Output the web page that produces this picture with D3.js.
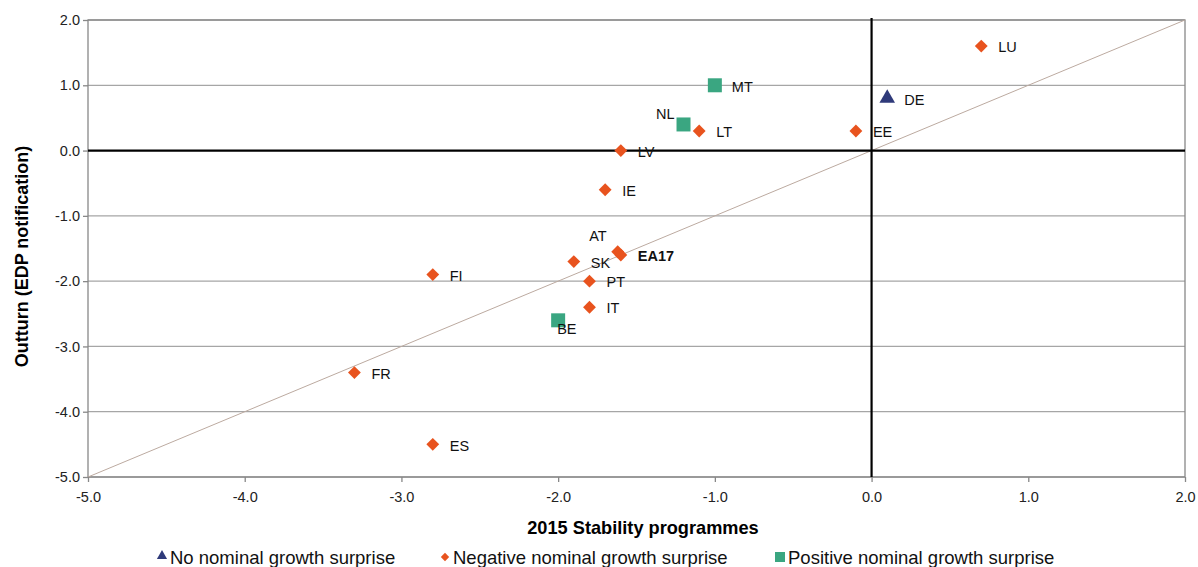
<!DOCTYPE html>
<html><head><meta charset="utf-8">
<script src="https://cdn.jsdelivr.net/npm/d3@7"></script>
<style>
body{margin:0;background:#fff;}
text{font-family:"Liberation Sans",Arial,sans-serif;}
</style></head>
<body>
<svg id="c" width="1198" height="567"></svg>
<script>
// ---- data ----
const countries = ["LU","DE","EE","MT","NL","LT","LV","IE","AT","EA17","SK","PT","IT","BE","FI","FR","ES"];
const stabilityProg = [0.7,0.1,-0.1,-1.0,-1.2,-1.1,-1.6,-1.7,-1.62,-1.6,-1.9,-1.8,-1.8,-2.0,-2.8,-3.3,-2.8];
const outturn = [1.6,0.8,0.3,1.0,0.4,0.3,0.0,-0.6,-1.55,-1.6,-1.7,-2.0,-2.4,-2.6,-1.9,-3.4,-4.5];
const groups = ["neg","none","neg","pos","pos","neg","neg","neg","neg","neg","neg","neg","neg","pos","neg","neg","neg"];
const xTicks = [-5,-4,-3,-2,-1,0,1,2];
const yTicks = [2,1,0,-1,-2,-3,-4,-5];
const legendLabels = ["No nominal growth surprise","Negative nominal growth surprise","Positive nominal growth surprise"];
const legendKeys = ["none","neg","pos"];

// ---- layout / style ----
const colors = {none:"#2F3A7A", neg:"#E8531E", pos:"#3AA681"};
const labelOffset = {
  NL:[-9,-11,"end"], AT:[-11,-16,"end"], BE:[-1,8,"start"]
};
const M = {l:88, r:1185, t:20, b:477};
const svg = d3.select("#c");
const x = d3.scaleLinear().domain([-5,2]).range([M.l,M.r]);
const y = d3.scaleLinear().domain([-5,2]).range([M.b,M.t]);

// grid lines
svg.append("g").selectAll("line").data(yTicks.filter(d=>d!==0)).join("line")
  .attr("x1",M.l).attr("x2",M.r).attr("y1",d=>y(d)).attr("y2",d=>y(d))
  .attr("stroke","#a6a6a6").attr("stroke-width",1.3);

// frame
svg.append("rect").attr("x",M.l).attr("y",M.t).attr("width",M.r-M.l).attr("height",M.b-M.t)
  .attr("fill","none").attr("stroke","#888").attr("stroke-width",1.3);

// diagonal
svg.append("line").attr("x1",x(-5)).attr("y1",y(-5)).attr("x2",x(2)).attr("y2",y(2))
  .attr("stroke","#bcaaa0").attr("stroke-width",1);

// zero lines
svg.append("line").attr("x1",M.l).attr("x2",M.r).attr("y1",y(0)).attr("y2",y(0))
  .attr("stroke","#000").attr("stroke-width",2.2);
svg.append("line").attr("x1",x(0)).attr("x2",x(0)).attr("y1",M.t-2).attr("y2",M.b)
  .attr("stroke","#000").attr("stroke-width",2.2);

// axes
const fmt = d=>d3.format(".1f")(d).replace("−","-");
const xAxis = d3.axisBottom(x).tickValues(xTicks).tickSize(5).tickSizeOuter(0);
const gx = svg.append("g").attr("transform",`translate(0,${M.b})`).call(xAxis);
gx.select(".domain").remove();
gx.selectAll("line").attr("stroke","#888").attr("stroke-width",1.3);
gx.selectAll("text").attr("font-size",14.5).attr("fill","#222").attr("y",10).attr("dy","1em")
  .attr("font-family","Liberation Sans, Arial, sans-serif").text(fmt);

const yAxis = d3.axisLeft(y).tickValues(yTicks).tickSize(5).tickSizeOuter(0);
const gy = svg.append("g").attr("transform",`translate(${M.l},0)`).call(yAxis);
gy.select(".domain").remove();
gy.selectAll("line").attr("stroke","#888").attr("stroke-width",1.3);
gy.selectAll("text").attr("font-size",14.5).attr("fill","#222").attr("x",-8)
  .attr("font-family","Liberation Sans, Arial, sans-serif").text(fmt);

// axis titles
svg.append("text").attr("x",643).attr("y",534).attr("text-anchor","middle")
  .attr("font-size",18.2).attr("font-weight","bold").attr("fill","#000").text("2015 Stability programmes");
svg.append("text").attr("transform",`translate(28,${(M.t+M.b)/2+8}) rotate(-90)`).attr("text-anchor","middle")
  .attr("font-size",18).attr("font-weight","bold").attr("fill","#000").text("Outturn (EDP notification)");

// markers
const sym = {none:d3.symbolTriangle, neg:d3.symbolDiamond2, pos:d3.symbolSquare};
const sizes = {none:105, neg:105, pos:196};
const pts = countries.map((c,i)=>({c, xv:stabilityProg[i], yv:outturn[i], g:groups[i]}));
const draw = pts.filter(p=>p.g!=="pos").concat(pts.filter(p=>p.g==="pos"));
svg.append("g").selectAll("path").data(draw).join("path")
  .attr("transform",d=>`translate(${x(d.xv)},${y(d.yv)})`)
  .attr("d",d=>d3.symbol().type(sym[d.g]).size(sizes[d.g])())
  .attr("fill",d=>colors[d.g]);

// point labels
svg.append("g").selectAll("text").data(pts).join("text")
  .attr("x",d=>x(d.xv)+(labelOffset[d.c]?labelOffset[d.c][0]:17))
  .attr("y",d=>y(d.yv)+(labelOffset[d.c]?labelOffset[d.c][1]:1))
  .attr("dy","0.36em")
  .attr("text-anchor",d=>labelOffset[d.c]?labelOffset[d.c][2]:"start")
  .attr("font-size",14.5).attr("fill","#111")
  .attr("font-weight",d=>d.c==="EA17"?"bold":"normal")
  .text(d=>d.c);

// legend
const legX = [162,445,780];
const lg = svg.append("g").selectAll("g").data(legendKeys).join("g")
  .attr("transform",(d,i)=>`translate(${legX[i]},557)`);
lg.append("path").attr("transform",d=>d==="none"?"translate(0,-1)":"translate(0,0)")
  .attr("d",d=>d3.symbol().type(sym[d]).size(d==="none"?45:d==="neg"?45:100)())
  .attr("fill",d=>colors[d]);
lg.append("text").attr("x",8).attr("dy","0.36em").attr("font-size",18.5).attr("fill","#111")
  .text((d,i)=>legendLabels[i]);
</script>
</body></html>
